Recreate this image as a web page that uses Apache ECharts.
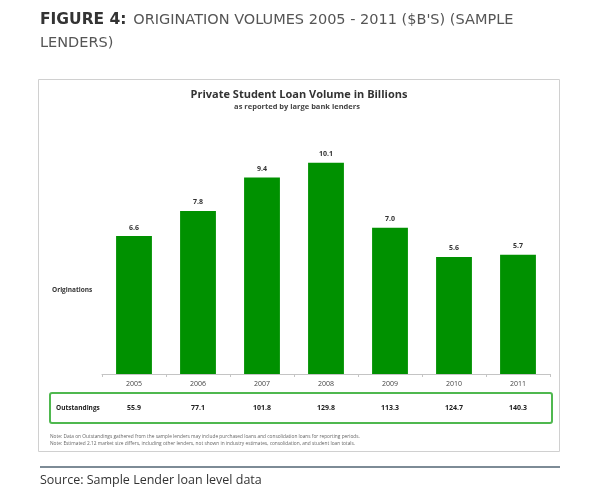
<!DOCTYPE html>
<html><head><meta charset="utf-8">
<script src="https://cdn.jsdelivr.net/npm/echarts@6/dist/echarts.min.js"></script>
<style>html,body{margin:0;padding:0;background:#fff}#c{width:600px;height:487px}</style>
</head><body><div id="c"></div>
<script>
var years = ['2005','2006','2007','2008','2009','2010','2011'];
var originations = [6.6, 7.8, 9.4, 10.1, 7.0, 5.6, 5.7];
var outstandings = ['55.9','77.1','101.8','129.8','113.3','124.7','140.3'];

var chart = echarts.init(document.getElementById('c'), null, {renderer:'canvas'});
var font = 'Open Sans';
chart.setOption({
  animation: false,
  backgroundColor: '#fff',
  grid: {left: 102, right: 50, top: 144, bottom: 113},
  xAxis: [{
    type: 'category', data: years, position: 'bottom',
    axisLine: {lineStyle: {color: '#c4c4c4', width: 1}},
    axisTick: {show: true, length: 3, lineStyle: {color: '#c4c4c4'}},
    axisLabel: {color: '#444', fontSize: 7, fontFamily: font, margin: 6}
  }, {
    type: 'category', data: outstandings, position: 'bottom', offset: 24,
    axisLine: {show: false}, axisTick: {show: false},
    axisLabel: {color: '#222', fontSize: 7, fontWeight: 'bold', fontFamily: font, margin: 6}
  }],
  yAxis: {type: 'value', min: 0, max: 11, show: false, splitLine: {show: false}},
  series: [{
    type: 'bar', data: originations, xAxisIndex: 0,
    barCategoryGap: '44%',
    itemStyle: {color: '#009100'},
    label: {show: true, position: 'top', distance: 5, color: '#333', fontSize: 7, fontWeight: 'bold', fontFamily: font,
      formatter: function(p){ return p.value.toFixed(1); }}
  }],
  graphic: [
    {type: 'text', left: 40, top: 12, style: {
      text: '{b|FIGURE 4:}  {r|ORIGINATION VOLUMES 2005 - 2011 ($B\'S) (SAMPLE}\n{r|LENDERS)}',
      rich: {
        b: {fontSize: 15.5, fontWeight: 'bold', fill: '#333', fontFamily: 'DejaVu Sans', lineHeight: 23},
        r: {fontSize: 14.5, fill: '#555', fontFamily: 'DejaVu Sans', lineHeight: 23}
      }
    }},
    {type: 'rect', shape: {x: 38.5, y: 79.5, width: 521, height: 372}, style: {fill: 'none', stroke: '#d0d0d0', lineWidth: 1}},
    {type: 'text', x: 299, y: 95, style: {text: 'Private Student Loan Volume in Billions', fontSize: 11, fontWeight: 'bold', fill: '#333', fontFamily: font, align: 'center', verticalAlign: 'middle'}},
    {type: 'text', x: 297, y: 107, style: {text: 'as reported by large bank lenders', fontSize: 7.5, fontWeight: 'bold', fill: '#444', fontFamily: font, align: 'center', verticalAlign: 'middle'}},
    {type: 'text', x: 52, y: 290, style: {text: 'Originations', fontSize: 6.5, fontWeight: 'bold', fill: '#333', fontFamily: font, verticalAlign: 'middle'}},
    {type: 'rect', shape: {x: 50, y: 393, width: 502, height: 30, r: 2}, style: {fill: 'none', stroke: '#4fb84f', lineWidth: 2}},
    {type: 'text', x: 56, y: 408, style: {text: 'Outstandings', fontSize: 6.5, fontWeight: 'bold', fill: '#222', fontFamily: font, verticalAlign: 'middle'}},
    {type: 'text', x: 50, y: 437, style: {text: 'Note: Data on Outstandings gathered from the sample lenders may include purchased loans and consolidation loans for reporting periods.', fontSize: 4.8, fill: '#666', fontFamily: font, verticalAlign: 'middle'}},
    {type: 'text', x: 50, y: 444, style: {text: 'Note: Estimated 2.12 market size differs, including other lenders, not shown in industry estimates, consolidation, and student loan totals.', fontSize: 4.8, fill: '#666', fontFamily: font, verticalAlign: 'middle'}},
    {type: 'line', shape: {x1: 40, y1: 467, x2: 560, y2: 467}, style: {stroke: '#7d8b96', lineWidth: 2}},
    {type: 'text', x: 40, y: 480, style: {text: 'Source: Sample Lender loan level data', fontSize: 12.5, fill: '#333', fontFamily: font, verticalAlign: 'middle'}}
  ]
});
</script></body></html>
